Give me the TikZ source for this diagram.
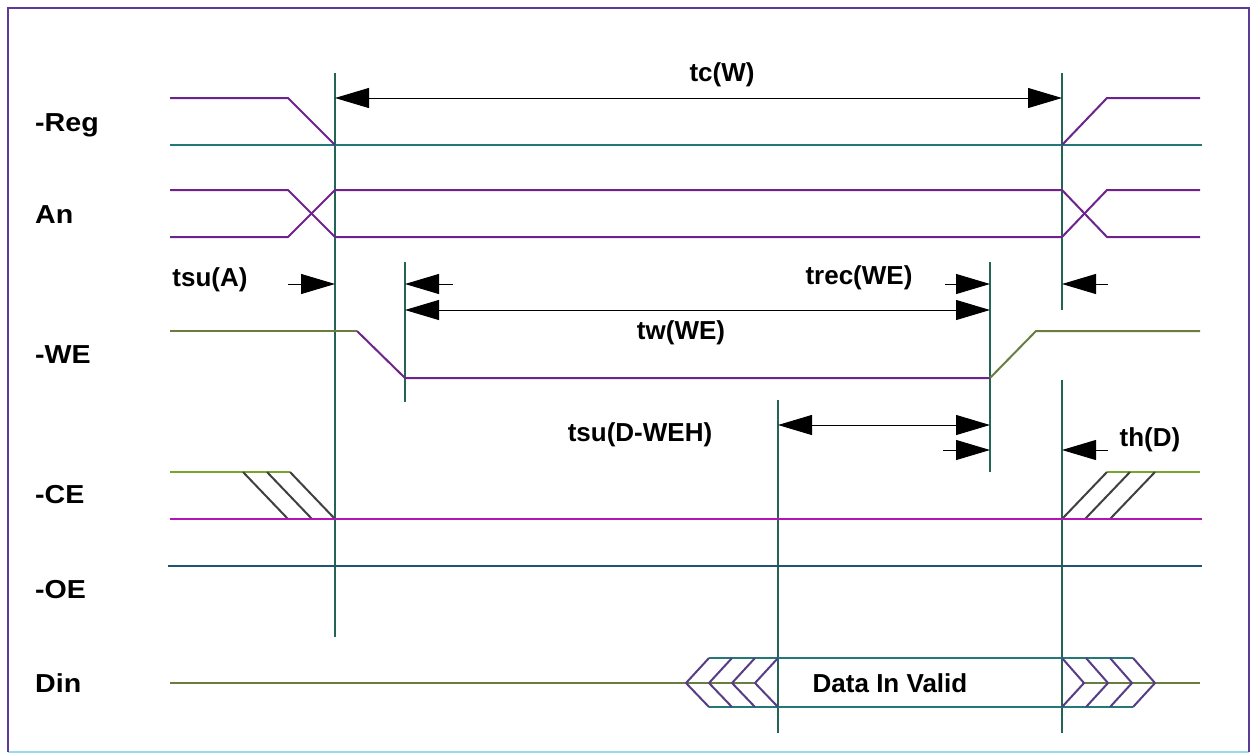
\documentclass[tikz,border=0pt]{standalone}
\usepackage{fontspec}
\setmainfont{Liberation Sans}
\usetikzlibrary{arrows.meta}
\definecolor{sighi}{RGB}{110,35,140}
\definecolor{siglo}{RGB}{35,120,120}
\definecolor{sigce}{RGB}{180,20,180}
\definecolor{sigok}{RGB}{120,165,45}
\definecolor{sigwe}{RGB}{105,125,65}
\definecolor{sigoe}{RGB}{30,85,115}
\definecolor{vline}{RGB}{35,100,85}
\definecolor{frame}{RGB}{90,60,150}
\definecolor{framelo}{RGB}{150,220,240}
\tikzset{
   sig/.style={line width=2pt, line join=round},
   cut/.style={line width=1.6pt, color=vline},
   lbl/.style={font=\fontsize{26}{30}\selectfont\bfseries, inner sep=0pt},
   tor/.style={line width=1pt, -{Triangle[length=34pt,width=20pt]}},
   tol/.style={line width=1pt, {Triangle[length=34pt,width=20pt]}-},
   both/.style={line width=1pt, {Triangle[length=34pt,width=20pt]}-{Triangle[length=34pt,width=20pt]}}
}
\begin{document}
\begin{tikzpicture}[x=1pt, y=-1pt]
   \useasboundingbox (0, 0) rectangle (1252, 753);
   \draw[framelo, line width=1.5pt] (8, 752) -- (1249, 752);
   \draw[frame, line width=2pt] (8, 752) -- (8, 8) -- (1249, 8) -- (1249, 752);
   \begin{scope}
      \def \Signals {
         reg/125/-Reg,
         an/215/An,
         we/355/-WE,
         ce/495/-CE,
         oe/590/-OE,
         din/683/Din}
      \foreach \u / \y / \n in \Signals {
         \node[lbl, anchor=west, xscale=1.1] (\u) at (35, \y){\n};
      }
   \end{scope}
   \begin{scope}
      \def \Cuts {
         va/335/73/637,
         vb/1062/73/310,
         vc/1062/380/733,
         vd/405/262/402,
         ve/990/262/472,
         vf/778/400/733}
      \foreach \u / \x / \a / \b in \Cuts {
         \coordinate (\u t) at (\x, \a);
         \coordinate (\u b) at (\x, \b);
         \path[draw, cut] (\u t) -- (\u b);
      }
   \end{scope}
   \path[draw, sig, siglo] (170, 145) -- (1202, 145);
   \path[draw, sig, sighi] (170, 98) -- (288, 98) -- (335, 145);
   \path[draw, sig, sighi] (1062, 145) -- (1107, 98) -- (1200, 98);
   \path[draw, sig, sighi] (170, 190) -- (288, 190) -- (335, 237) -- (1062, 237) -- (1107, 190) -- (1200, 190);
   \path[draw, sig, sighi] (170, 237) -- (288, 237) -- (335, 190) -- (1062, 190) -- (1107, 237) -- (1200, 237);
   \path[draw, sig, sigwe] (170, 331) -- (357, 331);
   \path[draw, sig, sighi] (357, 331) -- (405, 378) -- (990, 378);
   \path[draw, sig, sigwe] (990, 378) -- (1036, 331) -- (1200, 331);
   \path[draw, sig, sigok] (170, 472) -- (290, 472);
   \path[draw, sig, sigok] (1107, 472) -- (1200, 472);
   \foreach \x in {243, 267, 290} {
      \path[draw, sig, black!75] (\x, 472) -- (\x+45, 519);
   }
   \foreach \x in {1062, 1085, 1110} {
      \path[draw, sig, black!75] (\x, 519) -- (\x+45, 472);
   }
   \path[draw, sig, sigce, line width=2.8pt] (170, 519) -- (1202, 519);
   \path[draw, sig, sigoe] (168, 566) -- (1202, 566);
   \path[draw, sig, sigwe] (170, 683) -- (686, 683);
   \path[draw, sig, sigwe] (686, 683) -- (756, 683);
   \path[draw, sig, sigwe] (1084, 683) -- (1200, 683);
   \path[draw, sig, siglo] (709, 658) -- (1133, 658);
   \path[draw, sig, siglo] (709, 707) -- (1133, 707);
   \foreach \x in {709, 732, 755, 778} {
      \path[draw, sig, sighi!70!siglo] (\x, 658) -- (\x-23, 683) -- (\x, 707);
   }
   \foreach \x in {1062, 1086, 1110, 1133} {
      \path[draw, sig, sighi!70!siglo] (\x, 658) -- (\x+22, 683) -- (\x, 707);
   }
   \begin{scope}
      \def \Dims {
         tc/335/1062/98/both,
         sa/288/335/284/tor,
         sb/405/453/284/tol,
         rc/945/990/284/tor,
         rd/1062/1108/284/tol,
         tw/405/990/310/both,
         sd/778/990/425/both,
         se/943/990/450/tor,
         th/1062/1108/450/tol}
      \foreach \u / \a / \b / \y / \s in \Dims {
         \coordinate (\u l) at (\a, \y);
         \coordinate (\u r) at (\b, \y);
         \path[draw, \s] (\u l) -- (\u r);
      }
   \end{scope}
   \node[lbl] (tcw) at (722, 75){tc(W)};
   \node[lbl] (tsua) at (210, 280){tsu(A)};
   \node[lbl] (trec) at (859, 278){trec(WE)};
   \node[lbl] (tww) at (681, 333){tw(WE)};
   \node[lbl] (tsud) at (640, 435){tsu(D-WEH)};
   \node[lbl] (thd) at (1150, 440){th(D)};
   \node[lbl] (valid) at (890, 683){Data In Valid};
\end{tikzpicture}
\end{document}
